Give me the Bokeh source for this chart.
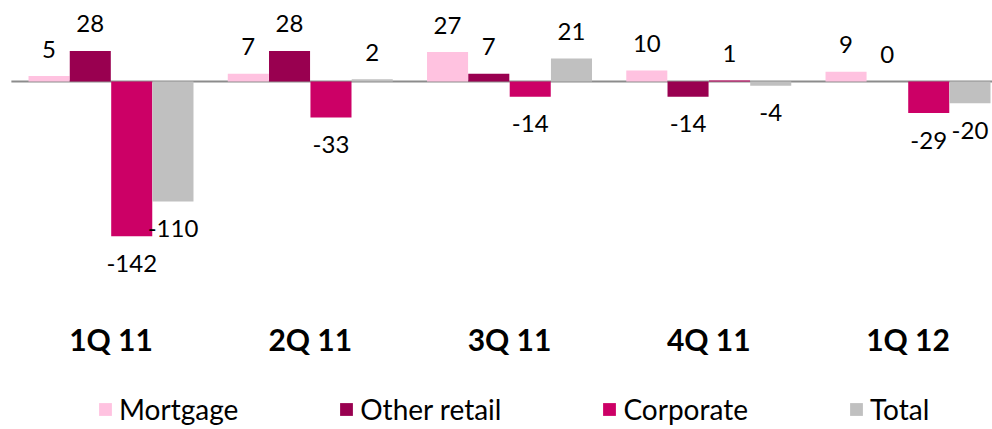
from bokeh.plotting import figure
from bokeh.models import ColumnDataSource, Range1d, Legend, LegendItem
from bokeh.core.properties import value
from bokeh.embed import file_html
from bokeh.resources import INLINE

categories = ["1Q 11", "2Q 11", "3Q 11", "4Q 11", "1Q 12"]
series = ["Mortgage", "Other retail", "Corporate", "Total"]
mortgage = [5, 7, 27, 10, 9]
other_retail = [28, 28, 7, -14, 0]
corporate = [-142, -33, -14, 1, -29]
total = [-110, 2, 21, -4, -20]

colors = ["#FFC2E0", "#990050", "#CC0066", "#C0C0C0"]
values = [mortgage, other_retail, corporate, total]
offsets = [-0.311, -0.104, 0.104, 0.311]
bar_w = 0.206
FONT = "Lato"

p = figure(width=992, height=429, output_backend="svg", toolbar_location=None,
           x_range=Range1d(-0.5546, 4.424), y_range=Range1d(-319.27, 74.31),
           min_border=0)
p.axis.visible = False
p.grid.visible = False
p.outline_line_color = None

# zero line
p.segment(x0=[-0.5], y0=[0], x1=[5], y1=[0], line_color="#8C8C8C", line_width=2)

items = []
for name, vals, col, off in zip(series, values, colors, offsets):
    xs = [i + off for i in range(len(categories))]
    src = ColumnDataSource(dict(x=xs, top=vals,
                                label=[str(v) for v in vals],
                                yoff=[-27 if v >= 0 else 27 for v in vals]))
    r = p.vbar(x="x", top="top", bottom=0, width=bar_w, source=src,
               fill_color=col, line_color=None)
    items.append(LegendItem(label=name, renderers=[r]))
    p.text(x="x", y="top", text="label", y_offset="yoff", source=src,
           text_align="center", text_baseline="middle",
           text_font=value(FONT), text_font_size="24px", text_color="#000000")

# category labels
p.text(x=list(range(len(categories))), y=[-236.7] * len(categories), text=categories,
       text_align="center", text_baseline="middle", text_font=value(FONT),
       text_font_size="30px", text_font_style="bold", text_color="#000000")

legend = Legend(items=items, orientation="horizontal", location=(97, 3),
                glyph_width=16, glyph_height=16, label_standoff=6, spacing=100,
                padding=0, margin=0, border_line_color=None,
                background_fill_alpha=0, label_text_font=FONT,
                label_text_font_size="28px", label_text_color="#000000",
                label_height=28)
p.add_layout(legend, "center")

open("out.html", "w").write(file_html(p, INLINE))
